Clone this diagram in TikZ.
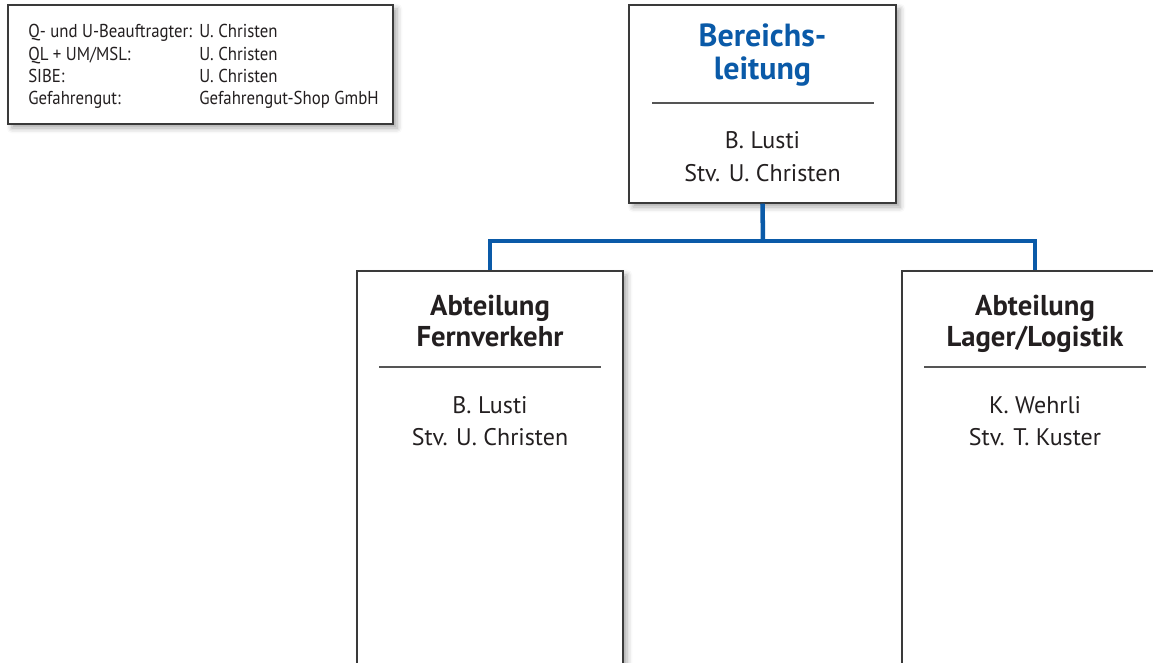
\documentclass[tikz,border=0pt]{standalone}
\usepackage{fontspec}
\setmainfont{PT Sans}
\newfontfamily\legfont{PT Sans}[FakeStretch=0.9]
\usetikzlibrary{shadows.blur}
\definecolor{hblue}{HTML}{0A5AA8}
\definecolor{frame}{HTML}{3A3A3A}
\definecolor{sepc}{HTML}{555555}
\definecolor{txt}{HTML}{231F20}
\begin{document}
\begin{tikzpicture}[x=0.75pt,y=-0.75pt,
  box/.style={draw=frame,line width=1.1pt,fill=white,inner sep=0pt,
    blur shadow={shadow xshift=3pt,shadow yshift=-3pt,shadow blur radius=4pt,shadow opacity=35}},
  conn/.style={draw=hblue,line width=3.4pt},
  sepline/.style={draw=sepc,line width=0.8pt},
  ttl/.style={font=\fontsize{24}{24}\selectfont\bfseries,text=hblue,inner sep=0pt,anchor=base},
  sub/.style={font=\fontsize{21.5}{24}\selectfont\bfseries,text=txt,inner sep=0pt,anchor=base},
  body/.style={font=\fontsize{18}{24}\selectfont,text=txt,inner sep=0pt,anchor=base},
  leg/.style={font=\legfont\fontsize{14}{16.5}\selectfont,text=txt,inner sep=0pt,anchor=base west}]
\useasboundingbox (0,0) rectangle (1153,663);
\clip (0,0) rectangle (1153,663);
% legend
\node[box,minimum width=288.75pt,minimum height=89.25pt] (legend) at (200.5,64.5) {};
\node[leg] (l1a) at (28,38) {Q- und U-Beauftragter:};
\node[leg] (l1b) at (199,38) {U. Christen};
\node[leg] (l2a) at (28,60.5) {QL + UM/MSL:};
\node[leg] (l2b) at (199,60.5) {U. Christen};
\node[leg] (l3a) at (28,83) {SIBE:};
\node[leg] (l3b) at (199,83) {U. Christen};
\node[leg] (l4a) at (28,105) {Gefahrengut:};
\node[leg] (l4b) at (199,105) {Gefahrengut-Shop GmbH};
% top box
\node[box,minimum width=200.25pt,minimum height=148.5pt] (top) at (762.5,104) {};
\node[ttl] (toptitle1) at (762.5,46.5) {Bereichs-};
\node[ttl] (toptitle2) at (762.5,79.5) {leitung};
\draw[sepline] (652,103) -- (874,103);
\node[body] (topbody1) at (762.5,149) {B. Lusti};
\node[body] (topbody2) at (762.5,181.5) {Stv. U. Christen};
% left box
\node[box,minimum width=199.5pt,minimum height=322.5pt] (left) at (490,486) {};
\node[sub] (lefttitle1) at (490,315) {Abteilung};
\node[sub] (lefttitle2) at (490,346.5) {Fernverkehr};
\draw[sepline] (379,367) -- (601,367);
\node[body] (leftbody1) at (490,413) {B. Lusti};
\node[body] (leftbody2) at (490,445) {Stv. U. Christen};
% right box
\node[box,minimum width=199.5pt,minimum height=322.5pt] (right) at (1035,486) {};
\node[sub] (righttitle1) at (1035,315) {Abteilung};
\node[sub] (righttitle2) at (1035,346.5) {Lager/Logistik};
\draw[sepline] (924,367) -- (1146,367);
\node[body] (rightbody1) at (1035,413) {K. Wehrli};
\node[body] (rightbody2) at (1035,445) {Stv. T. Kuster};
% connectors
\coordinate (bus) at (763,241);
\draw[conn] (top.south) -- (bus);
\draw[conn] (bus) -| (left.north);
\draw[conn] (bus) -| (right.north);
\end{tikzpicture}
\end{document}
